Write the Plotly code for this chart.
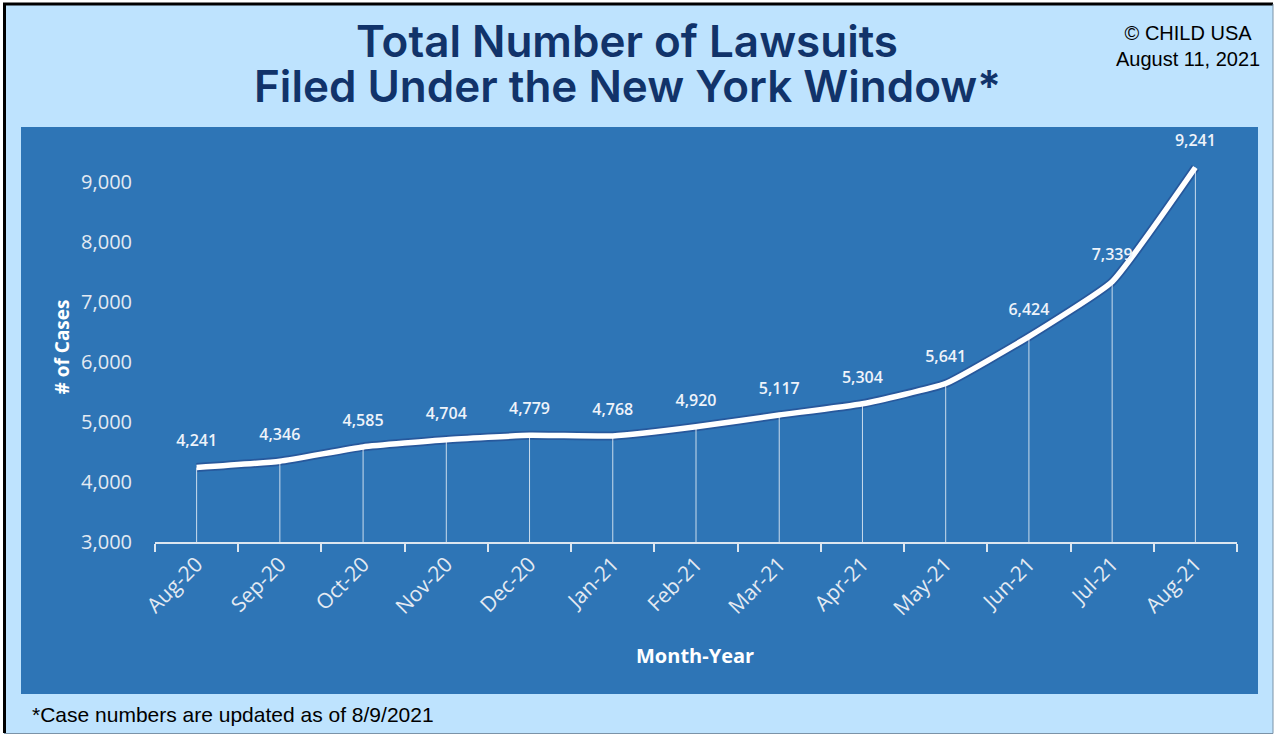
import plotly.graph_objects as go

months = ["Aug-20", "Sep-20", "Oct-20", "Nov-20", "Dec-20", "Jan-21", "Feb-21",
          "Mar-21", "Apr-21", "May-21", "Jun-21", "Jul-21", "Aug-21"]
cases = [4241, 4346, 4585, 4704, 4779, 4768, 4920, 5117, 5304, 5641, 6424, 7339, 9241]
y_ticks = [3000, 4000, 5000, 6000, 7000, 8000, 9000]
y_base = 3000
y_top = 9500

W, H = 1275, 735
L, R, T, B = 155, 38, 152, 193
PW, PH = W - L - R, H - T - B

def fx(px):
    return (px - L) / PW

def fy(py):
    return (H - B - py) / PH

LIGHT = "#BEE3FE"
DARK = "#2E75B6"
NAVY = "#11336A"

fig = go.Figure()

# soft shadow under the line
fig.add_trace(go.Scatter(
    x=months, y=cases, mode="lines",
    line=dict(color="rgba(25,35,110,0.35)", width=9, shape="spline", smoothing=0.4),
    hoverinfo="skip", showlegend=False,
))

fig.add_trace(go.Scatter(
    x=months, y=cases, mode="lines+markers+text",
    line=dict(color="white", width=5.5, shape="spline", smoothing=0.4),
    marker=dict(size=26, color="rgba(0,0,0,0)"),
    text=[f"{v:,}" for v in cases],
    textposition="top center",
    textfont=dict(family="Open Sans", size=16, color="#EEF3FA", weight=600),
    error_y=dict(type="data", symmetric=False,
                 array=[0] * len(cases),
                 arrayminus=[v - y_base for v in cases],
                 color="rgba(255,255,255,0.75)", thickness=1, width=0),
    cliponaxis=False, showlegend=False,
))

shapes = [
    dict(type="rect", xref="paper", yref="paper", x0=fx(4), x1=fx(1273), y0=fy(733), y1=fy(4),
         fillcolor=LIGHT, line=dict(width=0), layer="below"),
    dict(type="rect", xref="paper", yref="paper", x0=fx(21), x1=fx(1258), y0=fy(694), y1=fy(127),
         fillcolor=DARK, line=dict(width=0), layer="below"),
    dict(type="line", xref="paper", yref="paper", x0=fx(3), x1=fx(1273), y0=fy(4), y1=fy(4),
         line=dict(color="black", width=3)),
    dict(type="line", xref="paper", yref="paper", x0=fx(4.5), x1=fx(4.5), y0=fy(3), y1=fy(733),
         line=dict(color="black", width=3)),
    dict(type="line", xref="paper", yref="paper", x0=fx(4), x1=fx(1273), y0=fy(733.5), y1=fy(733.5),
         line=dict(color="#7B93A8", width=1)),
    dict(type="line", xref="paper", yref="paper", x0=fx(1273), x1=fx(1273), y0=fy(4), y1=fy(733.5),
         line=dict(color="#7B93A8", width=1)),
]

annotations = [
    dict(text="Total Number of Lawsuits", x=fx(627), y=fy(41), xref="paper", yref="paper",
         showarrow=False, xanchor="center", yanchor="middle",
         font=dict(family="Inter", size=44, color=NAVY, weight=600)),
    dict(text="Filed Under the New York Window*", x=fx(627), y=fy(86), xref="paper", yref="paper",
         showarrow=False, xanchor="center", yanchor="middle",
         font=dict(family="Inter", size=44, color=NAVY, weight=600)),
    dict(text="© CHILD USA<br>August 11, 2021", x=fx(1188), y=fy(46), xref="paper", yref="paper",
         showarrow=False, xanchor="center", yanchor="middle", align="center",
         font=dict(family="Liberation Sans", size=20, color="black")),
    dict(text="*Case numbers are updated as of 8/9/2021", x=fx(30), y=fy(714), xref="paper", yref="paper",
         showarrow=False, xanchor="left", yanchor="middle",
         font=dict(family="Liberation Sans", size=21, color="black")),
    dict(text="Month-Year", x=fx(695), y=fy(655), xref="paper", yref="paper",
         showarrow=False, xanchor="center", yanchor="middle",
         font=dict(family="Open Sans", size=20, color="white", weight=700)),
]

fig.update_layout(
    width=W, height=H,
    margin=dict(l=L, r=R, t=T, b=B, pad=0),
    paper_bgcolor="white", plot_bgcolor=DARK,
    shapes=shapes, annotations=annotations,
    showlegend=False,
)

fig.update_xaxes(
    type="category", tickson="boundaries", range=[-0.5, len(months) - 0.5],
    showgrid=False, zeroline=False,
    showline=True, linecolor="#DCE6F0", linewidth=1.5,
    ticks="outside", ticklen=8, tickcolor="#DCE6F0", tickwidth=1.5,
    tickangle=-45,
    tickfont=dict(family="Open Sans", size=21, color="#E4EAF2"),
)

fig.update_yaxes(
    range=[y_base, y_top], tickvals=y_ticks, tickformat=",",
    showgrid=False, zeroline=False, showline=False,
    ticks="outside", ticklen=18, tickcolor="rgba(0,0,0,0)",
    tickfont=dict(family="Open Sans", size=20, color="#E4EAF2"),
    title=dict(text="# of Cases", standoff=6,
               font=dict(family="Open Sans", size=19, color="white", weight=700)),
)

fig.write_html("out.html", config={"displayModeBar": False},
               post_script="document.body.style.margin='0px';")
